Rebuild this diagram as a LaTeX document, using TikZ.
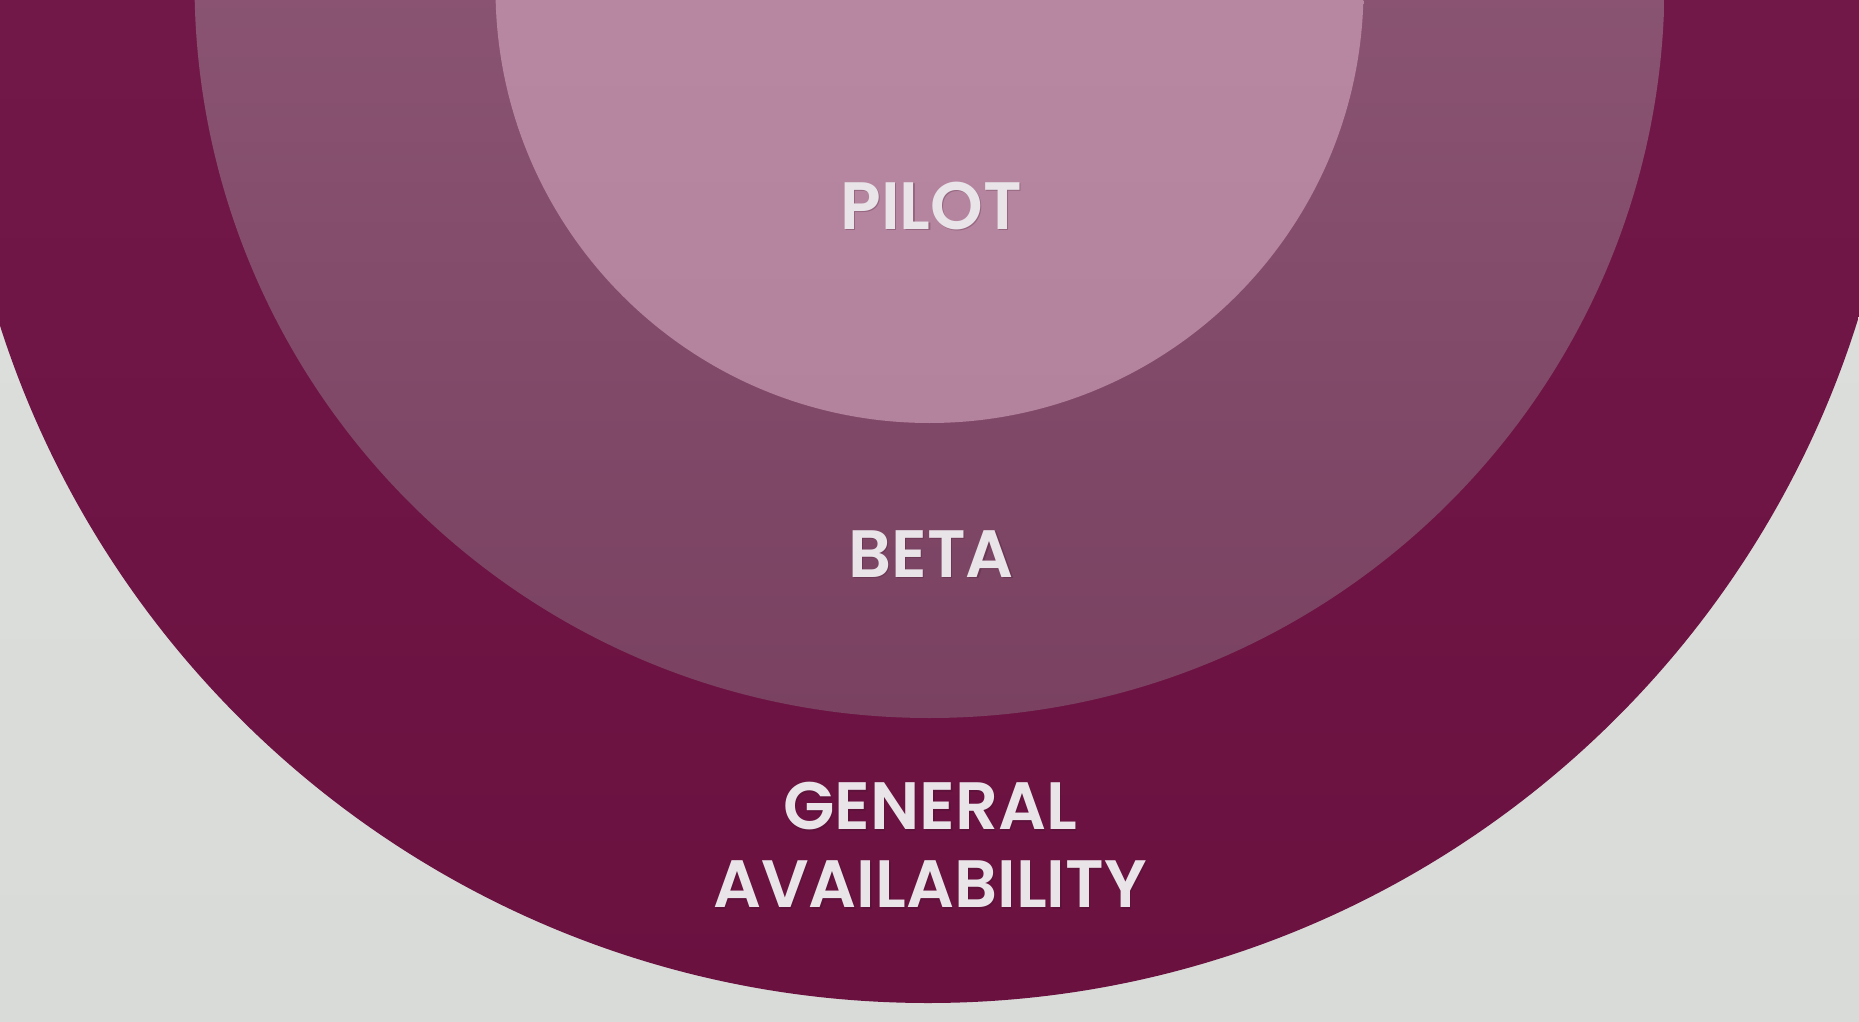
\documentclass[tikz,border=0pt]{standalone}
\usepackage{fontspec}
\setmainfont{Poppins}[BoldFont={* SemiBold}]
\definecolor{bgtop}{HTML}{DDDFDD}
\definecolor{bgbot}{HTML}{D9DBD9}
\definecolor{outertop}{HTML}{7A1F52}
\definecolor{outerbot}{HTML}{6A1140}
\definecolor{midtop}{HTML}{986682}
\definecolor{midbot}{HTML}{7A4161}
\definecolor{innertop}{HTML}{BC8CA7}
\definecolor{innerbot}{HTML}{B3829C}
\definecolor{labeltext}{HTML}{E8E4E8}
\definecolor{labelshadow}{HTML}{3A1028}
\begin{document}
\begin{tikzpicture}[x=0.5pt,y=-0.5pt,
  ringlabel/.style={text=labeltext, font=\bfseries\fontsize{33.5}{39}\selectfont,
    align=center, inner sep=0pt},
  ringshadow/.style={ringlabel, text=labelshadow, opacity=0.25}]
\useasboundingbox (0,0) rectangle (1859,1022);
\clip (0,0) rectangle (1859,1022);
% backdrop
\shade[top color=bgtop, bottom color=bgbot] (0,0) rectangle (1859,1022);
% three nested stages
\coordinate (gacentre) at (928,29);
\coordinate (betacentre) at (929.5,-17);
\coordinate (pilotcentre) at (929.5,-11);
\shade[top color=outertop, bottom color=outerbot] (gacentre) circle [radius=974];
\shade[top color=midtop, bottom color=midbot] (betacentre) circle [radius=735];
\shade[top color=innertop, bottom color=innerbot] (pilotcentre) circle [radius=434];
% stage names
\node[ringshadow] at (932.5,207.5) {PILOT};
\node[ringlabel] (pilot) at (931,206) {PILOT};
\node[ringshadow] at (932.5,555.5) {BETA};
\node[ringlabel] (beta) at (931,554) {BETA};
\node[ringshadow] at (931.5,846.5) {GENERAL\\AVAILABILITY};
\node[ringlabel] (ga) at (930,845) {GENERAL\\AVAILABILITY};
\end{tikzpicture}
\end{document}
